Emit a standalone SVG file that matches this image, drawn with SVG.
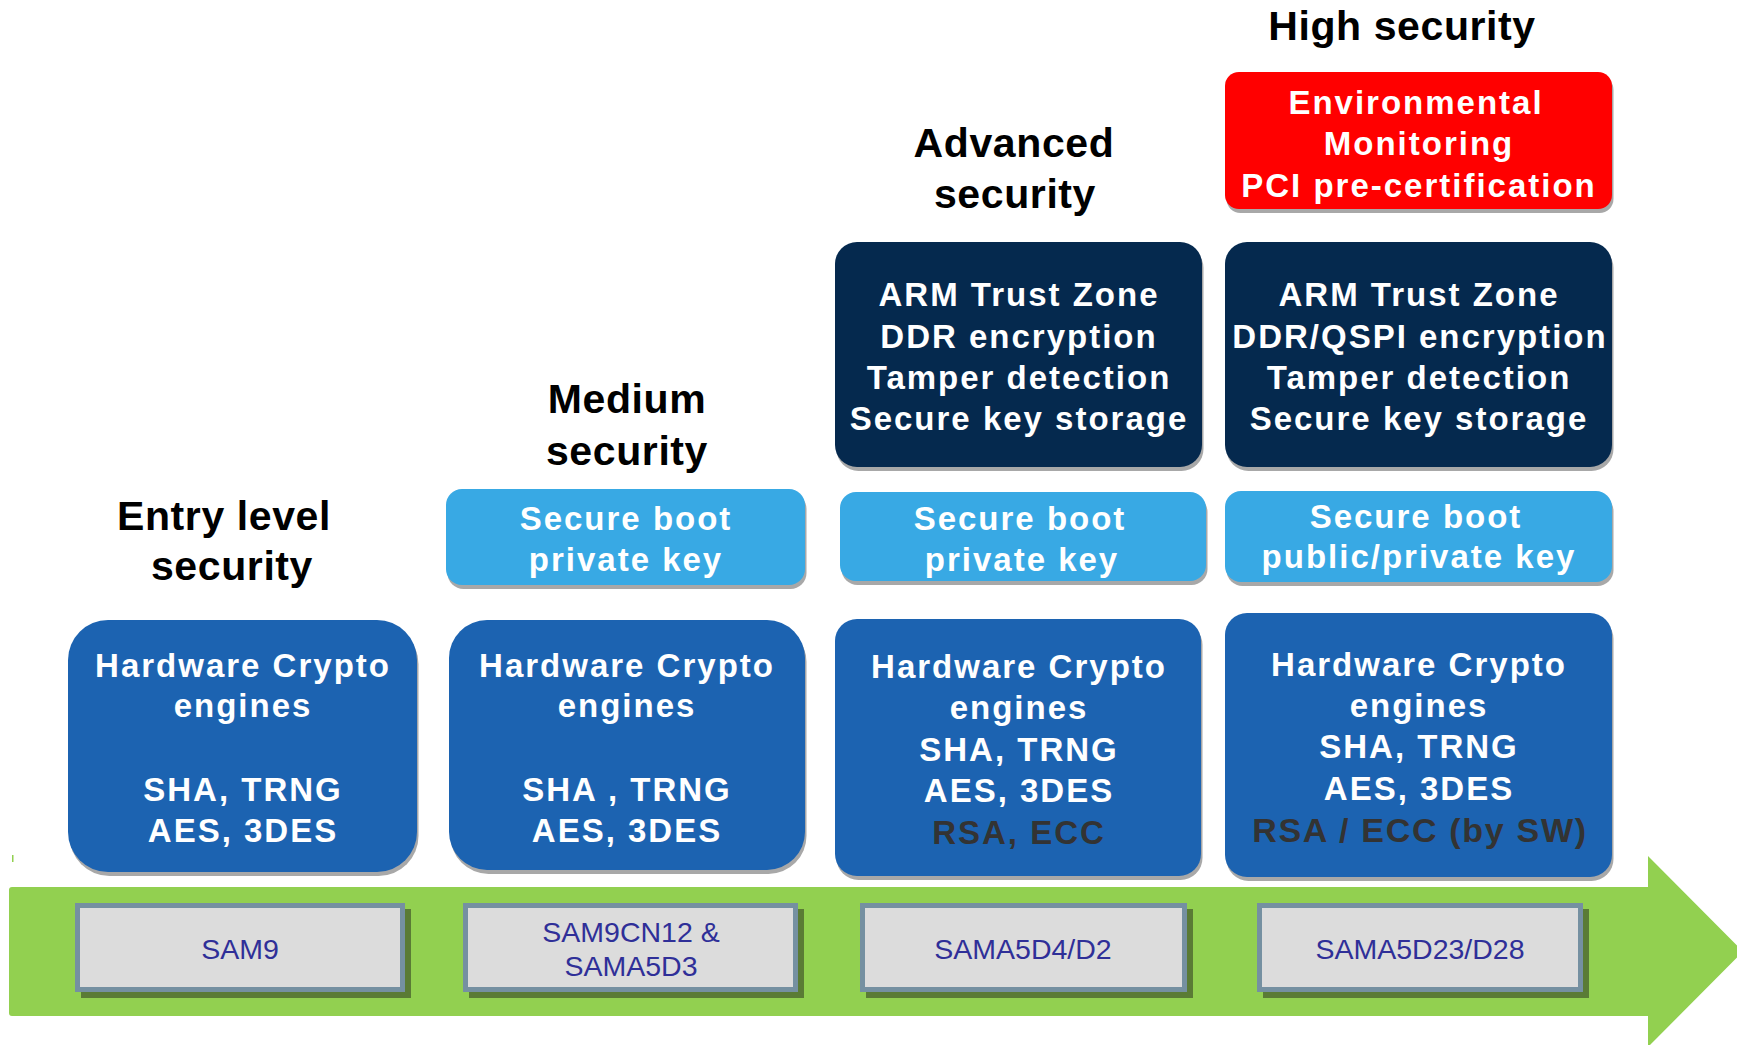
<svg xmlns="http://www.w3.org/2000/svg" width="1737" height="1045" viewBox="0 0 1737 1045">
<style>
.title{font-family:"Liberation Sans",Arial,sans-serif;font-weight:bold;font-size:41px;letter-spacing:0.6px;fill:#000;text-anchor:middle}
.bt{font-family:"Liberation Sans",Arial,sans-serif;font-weight:bold;font-size:33px;letter-spacing:2px;fill:#fff;text-anchor:middle}
.dk{fill:#333333}
.sam{font-family:"Liberation Sans",Arial,sans-serif;font-size:28.5px;fill:#2f2f98;text-anchor:middle}
.crypto{fill:#1c63b1}
.boot{fill:#38a9e4}
.navy{fill:#05294e}
.red{fill:#ff0000}
.shd{fill:#a8a8a8}
.sambox{fill:#dcdcdc;stroke:#7590a1;stroke-width:5}
.samshd{fill:#5a7b35}
</style>
<rect width="1737" height="1045" fill="#fff"/>

<g id="timeline">
<path d="M9,890 Q9,887 12,887 L1648,887 L1648,856 L1743,951.5 L1648,1047 L1648,1016 L12,1016 Q9,1016 9,1013 Z" fill="#92d050"/>
<rect x="12" y="855" width="1.5" height="7" fill="#92d050"/>
</g>

<g id="title-entry">
<text class="title" x="224" y="530">Entry level</text>
<text class="title" x="232" y="580">security</text>
</g>
<g id="title-medium">
<text class="title" x="627" y="413">Medium</text>
<text class="title" x="627" y="465">security</text>
</g>
<g id="title-advanced">
<text class="title" x="1014" y="157">Advanced</text>
<text class="title" x="1015" y="208">security</text>
</g>
<g id="title-high">
<text class="title" x="1402" y="40">High security</text>
</g>

<g id="crypto-entry">
<rect class="shd" x="69.5" y="624" width="349" height="252" rx="40"/>
<rect class="crypto" x="68" y="620" width="349" height="252" rx="40"/>
<text class="bt" x="243" y="677">Hardware Crypto</text>
<text class="bt" x="243" y="717">engines</text>
<text class="bt" x="243" y="801">SHA, TRNG</text>
<text class="bt" x="243" y="842">AES, 3DES</text>
</g>

<g id="boot-medium">
<rect class="shd" x="447.5" y="493" width="359" height="96" rx="16"/>
<rect class="boot" x="446" y="489" width="359" height="96" rx="16"/>
<text class="bt" x="626" y="530">Secure boot</text>
<text class="bt" x="626" y="571">private key</text>
</g>
<g id="crypto-medium">
<rect class="shd" x="450.5" y="624" width="356" height="250" rx="38"/>
<rect class="crypto" x="449" y="620" width="356" height="250" rx="38"/>
<text class="bt" x="627" y="677">Hardware Crypto</text>
<text class="bt" x="627" y="717">engines</text>
<text class="bt" x="627" y="801">SHA , TRNG</text>
<text class="bt" x="627" y="842">AES, 3DES</text>
</g>

<g id="trust-advanced">
<rect class="shd" x="836.5" y="246" width="367" height="225" rx="22"/>
<rect class="navy" x="835" y="242" width="367" height="225" rx="22"/>
<text class="bt" x="1019" y="306">ARM Trust Zone</text>
<text class="bt" x="1019" y="348">DDR encryption</text>
<text class="bt" x="1019" y="389">Tamper detection</text>
<text class="bt" x="1019" y="430">Secure key storage</text>
</g>
<g id="boot-advanced">
<rect class="shd" x="841.5" y="496" width="366" height="89" rx="16"/>
<rect class="boot" x="840" y="492" width="366" height="89" rx="16"/>
<text class="bt" x="1020" y="530">Secure boot</text>
<text class="bt" x="1022" y="571">private key</text>
</g>
<g id="crypto-advanced">
<rect class="shd" x="836.5" y="623" width="366" height="257" rx="22"/>
<rect class="crypto" x="835" y="619" width="366" height="257" rx="22"/>
<text class="bt" x="1019" y="678">Hardware Crypto</text>
<text class="bt" x="1019" y="719">engines</text>
<text class="bt" x="1019" y="761">SHA, TRNG</text>
<text class="bt" x="1019" y="802">AES, 3DES</text>
<text class="bt dk" x="1019" y="844">RSA, ECC</text>
</g>

<g id="env-high">
<rect class="shd" x="1226.5" y="76" width="387" height="137" rx="14"/>
<rect class="red" x="1225" y="72" width="387" height="137" rx="14"/>
<text class="bt" x="1416" y="114">Environmental</text>
<text class="bt" x="1419" y="155">Monitoring</text>
<text class="bt" x="1419" y="197">PCI pre-certification</text>
</g>
<g id="trust-high">
<rect class="shd" x="1226.5" y="246" width="387" height="225" rx="22"/>
<rect class="navy" x="1225" y="242" width="387" height="225" rx="22"/>
<text class="bt" x="1419" y="306">ARM Trust Zone</text>
<text class="bt" x="1420" y="348">DDR/QSPI encryption</text>
<text class="bt" x="1419" y="389">Tamper detection</text>
<text class="bt" x="1419" y="430">Secure key storage</text>
</g>
<g id="boot-high">
<rect class="shd" x="1226.5" y="495" width="387" height="91" rx="16"/>
<rect class="boot" x="1225" y="491" width="387" height="91" rx="16"/>
<text class="bt" x="1416" y="528">Secure boot</text>
<text class="bt" x="1419" y="568">public/private key</text>
</g>
<g id="crypto-high">
<rect class="shd" x="1226.5" y="617" width="387" height="264" rx="22"/>
<rect class="crypto" x="1225" y="613" width="387" height="264" rx="22"/>
<text class="bt" x="1419" y="676">Hardware Crypto</text>
<text class="bt" x="1419" y="717">engines</text>
<text class="bt" x="1419" y="758">SHA, TRNG</text>
<text class="bt" x="1419" y="800">AES, 3DES</text>
<text class="bt dk" x="1420" y="842" style="letter-spacing:1.7px;font-size:34px">RSA / ECC (by SW)</text>
</g>

<g id="sam9">
<rect class="samshd" x="81" y="909" width="330" height="89"/>
<rect class="sambox" x="77.5" y="905.5" width="325" height="84"/>
<text class="sam" x="240" y="959">SAM9</text>
</g>
<g id="sam9cn12">
<rect class="samshd" x="469" y="909" width="335" height="89"/>
<rect class="sambox" x="465.5" y="905.5" width="330" height="84"/>
<text class="sam" x="631" y="942">SAM9CN12 &amp;</text>
<text class="sam" x="631" y="976">SAMA5D3</text>
</g>
<g id="sama5d4">
<rect class="samshd" x="866" y="909" width="327" height="89"/>
<rect class="sambox" x="862.5" y="905.5" width="322" height="84"/>
<text class="sam" x="1023" y="959">SAMA5D4/D2</text>
</g>
<g id="sama5d23">
<rect class="samshd" x="1263" y="909" width="326" height="89"/>
<rect class="sambox" x="1259.5" y="905.5" width="321" height="84"/>
<text class="sam" x="1420" y="959">SAMA5D23/D28</text>
</g>

<g id="connectors"></g>
</svg>
